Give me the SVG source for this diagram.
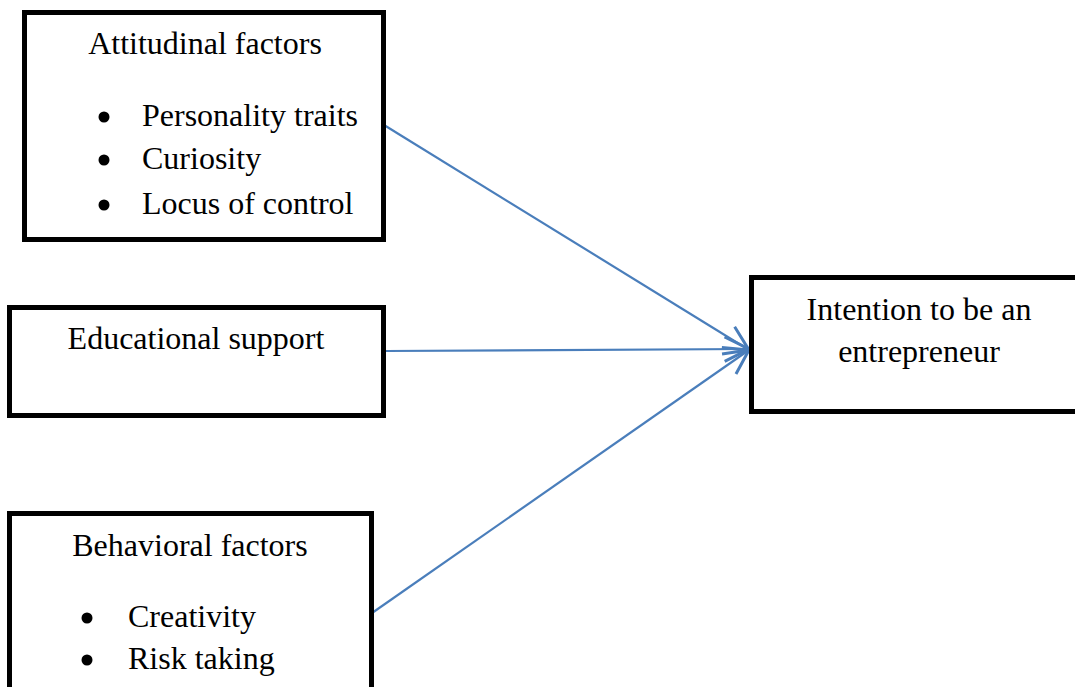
<svg xmlns="http://www.w3.org/2000/svg" width="1075" height="687" viewBox="0 0 1075 687">
<style>
.box{fill:#fff;stroke:#000;stroke-width:5}
.t{font-family:"Liberation Serif","Times New Roman",serif;font-size:32px;fill:#000}
.c{text-anchor:middle}
.conn{stroke:#4a7ebb;stroke-width:2.2;fill:none}
</style>
<defs>
<marker id="arr" markerWidth="30" markerHeight="30" refX="14" refY="7" orient="auto" markerUnits="userSpaceOnUse" viewBox="0 0 16 14">
<path d="M1,0.5 L14,7 L1,13.5" fill="none" stroke="#4a7ebb" stroke-width="1.6"/>
</marker>
</defs>
<g id="connectors">
<line class="conn" x1="384" y1="125" x2="749" y2="350" marker-end="url(#arr)"/>
<line class="conn" x1="386" y1="351" x2="749" y2="349" marker-end="url(#arr)"/>
<line class="conn" x1="372" y1="613" x2="749" y2="350" marker-end="url(#arr)"/>
</g>
<g id="attitudinal">
<rect class="box" x="24.5" y="12.5" width="359" height="227"/>
<text class="t c" x="205" y="54">Attitudinal factors</text>
<circle cx="104" cy="117" r="5.5"/>
<circle cx="104" cy="160" r="5.5"/>
<circle cx="104" cy="205" r="5.5"/>
<text class="t" x="142" y="126">Personality traits</text>
<text class="t" x="142" y="169">Curiosity</text>
<text class="t" x="142" y="214">Locus of control</text>
</g>
<g id="educational">
<rect class="box" x="9.5" y="307.5" width="374" height="108"/>
<text class="t c" x="196" y="349">Educational support</text>
</g>
<g id="behavioral">
<rect class="box" x="9.5" y="513.5" width="362" height="190"/>
<text class="t c" x="190" y="556">Behavioral factors</text>
<circle cx="87" cy="618" r="5.5"/>
<circle cx="87" cy="660" r="5.5"/>
<text class="t" x="128" y="627">Creativity</text>
<text class="t" x="128" y="669">Risk taking</text>
</g>
<g id="intention">
<rect class="box" x="751.5" y="277.5" width="340" height="134"/>
<text class="t c" x="919" y="320">Intention to be an</text>
<text class="t c" x="919" y="362">entrepreneur</text>
</g>
</svg>
